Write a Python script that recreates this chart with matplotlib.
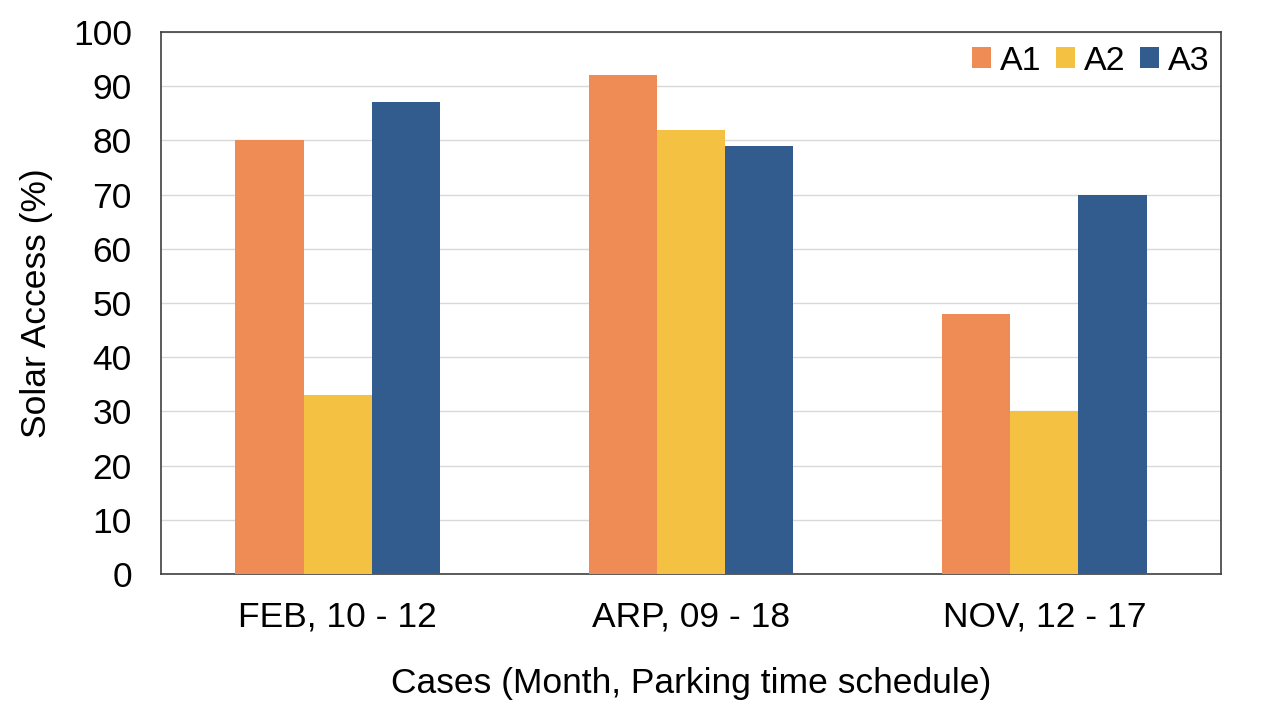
import numpy as np
import matplotlib
matplotlib.use('Agg')
import matplotlib.pyplot as plt

plt.rcParams['font.family'] = ['Liberation Sans', 'DejaVu Sans']

cases = ['FEB, 10 - 12', 'ARP, 09 - 18', 'NOV, 12 - 17']
a1 = [80, 92, 48]
a2 = [33, 82, 30]
a3 = [87, 79, 70]
series = ['A1', 'A2', 'A3']
colors = ['#EF8C55', '#F4C143', '#335C8E']

fig = plt.figure(figsize=(12.67, 7.28), dpi=100)
ax = fig.add_axes([161/1267, 1-574/728, 1060/1267, 542/728])

x = np.arange(len(cases))
w = 0.193
for i, (vals, name) in enumerate(zip([a1, a2, a3], series)):
    ax.bar(x + (i - 1) * w, vals, w, color=colors[i], label=name, zorder=3)

ax.set_xlim(-0.5, 2.5)
ax.set_ylim(0, 100)
ax.set_yticks(range(0, 101, 10))
ax.set_xticks(x)
ax.set_xticklabels(cases)
ax.tick_params(axis='both', length=0, labelsize=25.5)
ax.tick_params(axis='x', pad=19)
ax.tick_params(axis='y', pad=21)
ax.yaxis.grid(True, color='#D9D9D9', linewidth=1, zorder=0)
for s in ax.spines.values():
    s.set_color('#404040')
    s.set_linewidth(1.2)

ax.set_ylabel('Solar Access (%)', fontsize=25.5, labelpad=14)
ax.set_xlabel('Cases (Month, Parking time schedule)', fontsize=25.5, labelpad=24)

ax.legend(loc='upper right', bbox_to_anchor=(1.005, 1.006), ncol=3, fontsize=24.5,
          frameon=False, handlelength=0.55, handleheight=0.55, handletextpad=0.25,
          columnspacing=0.45, borderaxespad=0.1)

fig.savefig('out.png', dpi=100)
